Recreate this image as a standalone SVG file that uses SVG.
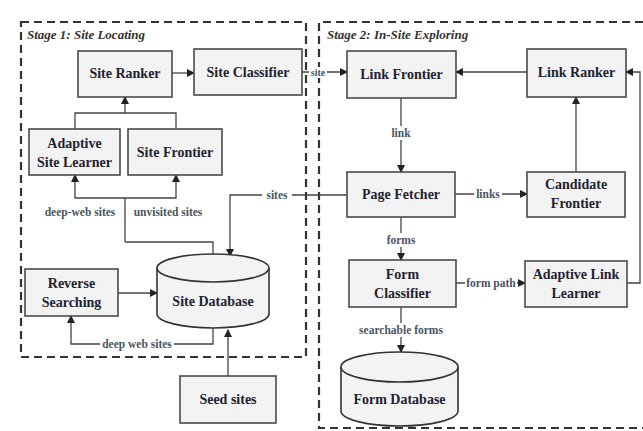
<svg xmlns="http://www.w3.org/2000/svg" width="643" height="431" viewBox="0 0 643 431">
  <style>
    .stage { fill: none; stroke: #333; stroke-width: 2.2; stroke-dasharray: 8 5; }
    .stage-title { font-family: "Liberation Serif", serif; font-style: italic; font-weight: bold; font-size: 13px; fill: #333; }
    .box { fill: #f3f3f3; stroke: #4a4a4a; stroke-width: 1.6; }
    .db { fill: #f3f3f3; stroke: #333; stroke-width: 1.6; }
    .txt { font-family: "Liberation Serif", serif; font-weight: bold; font-size: 14px; fill: #1e2230; text-anchor: middle; }
    .lbl { font-family: "Liberation Serif", serif; font-weight: bold; font-size: 11.5px; fill: #4a5560; text-anchor: middle; }
    .lblbg { fill: #fff; }
    .edge { fill: none; stroke: #444; stroke-width: 1.3; marker-end: url(#arr); }
    .line { fill: none; stroke: #444; stroke-width: 1.3; }
  </style>
  <defs>
    <marker id="arr" markerWidth="8" markerHeight="8" refX="7" refY="4" orient="auto" markerUnits="userSpaceOnUse">
      <path d="M0,0 L8,4 L0,8 Z" fill="#222"/>
    </marker>
  </defs>
  <rect width="643" height="431" fill="#fff"/>

  <!-- stage frames -->
  <g id="stage1">
    <rect class="stage" x="21" y="22" width="285" height="335"/>
    <text class="stage-title" x="27" y="39">Stage 1: Site Locating</text>
  </g>
  <g id="stage2">
    <path class="stage" d="M643,22 L319,22 L319,428 L643,428"/>
    <text class="stage-title" x="327" y="39">Stage 2: In-Site Exploring</text>
  </g>

  <!-- connectors -->
  <g id="connectors">
    <path class="edge" d="M172,73 L194,73"/>
    <path class="line" d="M75,129 L75,113 L176,113 L176,129"/>
    <path class="edge" d="M125,113 L125,97"/>
    <path class="line" d="M125,242 L125,198"/>
    <path class="edge" d="M125,198 L75,198 L75,175"/>
    <path class="edge" d="M125,198 L176,198 L176,175"/>
    <path class="line" d="M125,242 L213,242 L213,254"/>
    <path class="edge" d="M347,195 L230,195 L230,256"/>
    <path class="edge" d="M118,293 L157,293"/>
    <path class="edge" d="M213,328 L213,344 L71,344 L71,316"/>
    <path class="edge" d="M228,376 L228,330"/>
    <path class="edge" d="M302,72 L347,72"/>
    <path class="edge" d="M527,72 L456,72"/>
    <path class="edge" d="M401,98 L401,172"/>
    <path class="edge" d="M455,194 L527,194"/>
    <path class="edge" d="M576,172 L576,97"/>
    <path class="edge" d="M401,217 L401,260"/>
    <path class="edge" d="M456,283 L525,283"/>
    <path class="edge" d="M627,283 L640,283 L640,72 L626,72"/>
    <path class="edge" d="M401,307 L401,352"/>

    <rect class="lblbg" x="42" y="205" width="76" height="14"/>
    <text class="lbl" x="80" y="216">deep-web sites</text>
    <rect class="lblbg" x="130" y="205" width="76" height="14"/>
    <text class="lbl" x="168" y="216">unvisited sites</text>
    <rect class="lblbg" x="262" y="188" width="30" height="14"/>
    <text class="lbl" x="277" y="199">sites</text>
    <rect class="lblbg" x="100" y="337" width="74" height="14"/>
    <text class="lbl" x="137" y="348">deep web sites</text>
    <rect class="lblbg" x="309" y="67" width="18" height="11"/>
    <text class="lbl" x="318" y="75.5" style="font-size:10px">site</text>
    <rect class="lblbg" x="390" y="126" width="22" height="14"/>
    <text class="lbl" x="401" y="137">link</text>
    <rect class="lblbg" x="474" y="187" width="28" height="14"/>
    <text class="lbl" x="488" y="198">links</text>
    <rect class="lblbg" x="385" y="233" width="32" height="14"/>
    <text class="lbl" x="401" y="244">forms</text>
    <rect class="lblbg" x="465" y="276" width="52" height="14"/>
    <text class="lbl" x="491" y="287">form path</text>
    <rect class="lblbg" x="356" y="323" width="90" height="14"/>
    <text class="lbl" x="401" y="334">searchable forms</text>
  </g>

  <!-- stage 1 nodes -->
  <g id="site-ranker">
    <rect class="box" x="78" y="51" width="94" height="46"/>
    <text class="txt" x="125" y="78">Site Ranker</text>
  </g>
  <g id="site-classifier">
    <rect class="box" x="194" y="49" width="108" height="46"/>
    <text class="txt" x="248" y="77">Site Classifier</text>
  </g>
  <g id="adaptive-site-learner">
    <rect class="box" x="29" y="129" width="91" height="46"/>
    <text class="txt" x="74.5" y="148">Adaptive</text>
    <text class="txt" x="74.5" y="167">Site Learner</text>
  </g>
  <g id="site-frontier">
    <rect class="box" x="128" y="129" width="94" height="46"/>
    <text class="txt" x="175" y="157">Site Frontier</text>
  </g>
  <g id="reverse-searching">
    <rect class="box" x="25" y="269" width="93" height="47"/>
    <text class="txt" x="71.5" y="288">Reverse</text>
    <text class="txt" x="71.5" y="307">Searching</text>
  </g>
  <g id="site-database">
    <path class="db" d="M157,268 L157,314 A56,14 0 0 0 269,314 L269,268 A56,14 0 0 0 157,268 Z"/>
    <path class="db" d="M157,268 A56,14 0 0 0 269,268" fill="none"/>
    <text class="txt" x="213" y="306">Site Database</text>
  </g>
  <g id="seed-sites">
    <rect class="box" x="180" y="376" width="96" height="47"/>
    <text class="txt" x="228" y="404">Seed sites</text>
  </g>

  <!-- stage 2 nodes -->
  <g id="link-frontier">
    <rect class="box" x="347" y="51" width="109" height="47"/>
    <text class="txt" x="401.5" y="79">Link Frontier</text>
  </g>
  <g id="link-ranker">
    <rect class="box" x="527" y="49" width="99" height="48"/>
    <text class="txt" x="576.5" y="77">Link Ranker</text>
  </g>
  <g id="page-fetcher">
    <rect class="box" x="347" y="172" width="108" height="45"/>
    <text class="txt" x="401" y="199">Page Fetcher</text>
  </g>
  <g id="candidate-frontier">
    <rect class="box" x="527" y="172" width="98" height="45"/>
    <text class="txt" x="576" y="189">Candidate</text>
    <text class="txt" x="576" y="208">Frontier</text>
  </g>
  <g id="form-classifier">
    <rect class="box" x="349" y="260" width="107" height="47"/>
    <text class="txt" x="402.5" y="279">Form</text>
    <text class="txt" x="402.5" y="298">Classifier</text>
  </g>
  <g id="adaptive-link-learner">
    <rect class="box" x="525" y="261" width="102" height="46"/>
    <text class="txt" x="576" y="279">Adaptive Link</text>
    <text class="txt" x="576" y="298">Learner</text>
  </g>
  <g id="form-database">
    <path class="db" d="M341,367 L341,411 A58.5,15 0 0 0 458,411 L458,367 A58.5,15 0 0 0 341,367 Z"/>
    <path class="db" d="M341,367 A58.5,15 0 0 0 458,367" fill="none"/>
    <text class="txt" x="399.5" y="404">Form Database</text>
  </g>
</svg>
